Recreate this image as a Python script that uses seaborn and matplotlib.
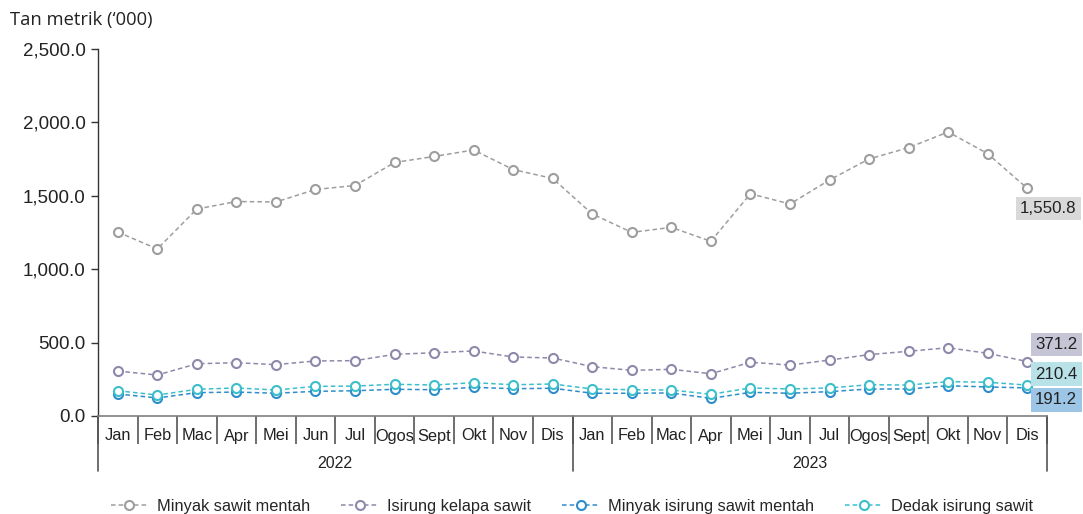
import matplotlib
matplotlib.use("Agg")
import matplotlib.pyplot as plt
import matplotlib.lines as mlines
import matplotlib.ticker as mticker
import numpy as np
import pandas as pd
import seaborn as sns

months = ["Jan", "Feb", "Mac", "Apr", "Mei", "Jun", "Jul", "Ogos", "Sept", "Okt", "Nov", "Dis"]
years = ["2022", "2023"]

minyak_sawit_mentah = [1253, 1138, 1410, 1461, 1458, 1543, 1570, 1727, 1768, 1812, 1679, 1618,
                       1376, 1251, 1285, 1190, 1514, 1444, 1608, 1751, 1828, 1935, 1787, 1550.8]
isirung_kelapa_sawit = [306, 279, 356, 363, 350, 375, 377, 420, 431, 443, 402, 395,
                        336, 311, 318, 288, 366, 347, 381, 418, 441, 465, 427, 371.2]
minyak_isirung_sawit_mentah = [150, 123, 159, 163, 155, 168, 172, 182, 179, 195, 186, 189,
                               155, 155, 157, 120, 161, 155, 166, 184, 184, 206, 198, 191.2]
dedak_isirung_sawit = [172, 143, 182, 191, 177, 202, 204, 216, 211, 227, 213, 218,
                       184, 179, 177, 148, 191, 184, 191, 213, 211, 234, 230, 210.4]

series = {
    "Minyak sawit mentah": minyak_sawit_mentah,
    "Isirung kelapa sawit": isirung_kelapa_sawit,
    "Minyak isirung sawit mentah": minyak_isirung_sawit_mentah,
    "Dedak isirung sawit": dedak_isirung_sawit,
}
colors = {
    "Minyak sawit mentah": "#9E9EA0",
    "Isirung kelapa sawit": "#8C89AA",
    "Minyak isirung sawit mentah": "#2F8DCB",
    "Dedak isirung sawit": "#3CBFCB",
}
box_colors = {
    "Minyak sawit mentah": "#D9D9D9",
    "Isirung kelapa sawit": "#C6C5D6",
    "Minyak isirung sawit mentah": "#9DC5E6",
    "Dedak isirung sawit": "#B8E2E8",
}
# end label offsets in pixels
label_offsets = {
    "Minyak sawit mentah": (21, -20),
    "Isirung kelapa sawit": (29, 17),
    "Minyak isirung sawit mentah": (29, -12),
    "Dedak isirung sawit": (29, 11),
}

sns.set_theme(style="white")
plt.rcParams["font.family"] = ["Liberation Sans", "DejaVu Sans"]

fig = plt.figure(figsize=(10.83, 5.14), dpi=100)
ax = fig.add_axes([98 / 1083, 98 / 514, 949 / 1083, 367 / 514])

idx = np.arange(len(months) * len(years))
for name, vals in series.items():
    df = pd.DataFrame({"x": idx, "y": vals})
    sns.lineplot(data=df, x="x", y="y", ax=ax, color=colors[name], linestyle=(0, (3, 2)),
                 linewidth=1.1, marker="o", markersize=6.5, markerfacecolor="white",
                 markeredgecolor=colors[name], markeredgewidth=1.5, label=name)
    ax.annotate(f"{vals[-1]:,.1f}", xy=(idx[-1], vals[-1]), xytext=label_offsets[name],
                textcoords="offset pixels", ha="center", va="center", fontsize=12.2,
                color="#222222", annotation_clip=False,
                bbox=dict(boxstyle="square,pad=0.25", fc=box_colors[name], ec="none"))

ax.set_xlim(-0.5, len(idx) - 0.5)
ax.set_ylim(0, 2500)
ax.yaxis.set_major_locator(mticker.MultipleLocator(500))
ax.yaxis.set_major_formatter(mticker.FuncFormatter(lambda v, p: f"{v:,.1f}"))
ax.set_xlabel("")
ax.set_ylabel("")

for s in ["top", "right"]:
    ax.spines[s].set_visible(False)
ax.spines["left"].set_color("#333333")
ax.spines["bottom"].set_color("#7F7F7F")
ax.spines["left"].set_linewidth(1.0)
ax.spines["bottom"].set_linewidth(1.2)

ax.tick_params(axis="y", which="major", left=True, direction="out", length=5, width=1,
               color="#333333", labelsize=13.5, pad=4, labelcolor="#222222")

# month labels + separators
ax.set_xticks(idx)
ax.set_xticklabels(months * len(years))
ax.set_xticks(np.arange(-0.5, len(idx), 1), minor=True)
ax.tick_params(axis="x", which="major", bottom=True, length=0, pad=9, labelsize=11.8,
               labelcolor="#222222")
ax.tick_params(axis="x", which="minor", bottom=True, direction="out", length=20,
               width=1.2, color="#555555")

# year separators and labels
trans = ax.get_xaxis_transform()
for xb in [-0.5, 11.5, 23.5]:
    ax.add_line(mlines.Line2D([xb, xb], [0, -55 / 367], transform=trans, color="#555555",
                              linewidth=1.2, clip_on=False))
for i, yr in enumerate(years):
    ax.annotate(yr, xy=(i * 12 + 5.5, 0), xycoords=trans, xytext=(0, -47),
                textcoords="offset pixels", ha="center", va="center", fontsize=11.5,
                color="#222222", annotation_clip=False)

fig.text(10 / 1083, 1 - 20 / 514, "Tan metrik (\u2018000)", fontsize=13.2,
         family=["Open Sans", "DejaVu Sans"], color="#222222", va="center", ha="left")

handles, labels = ax.get_legend_handles_labels()
ax.legend_.remove()
fig.legend(handles, labels, loc="center", bbox_to_anchor=(0.528, 8 / 514), ncol=4,
           frameon=False, handlelength=2.3, columnspacing=1.9, handletextpad=0.5,
           prop={"family": ["Liberation Sans"], "size": 11.8})

fig.savefig("out.png", dpi=100)
